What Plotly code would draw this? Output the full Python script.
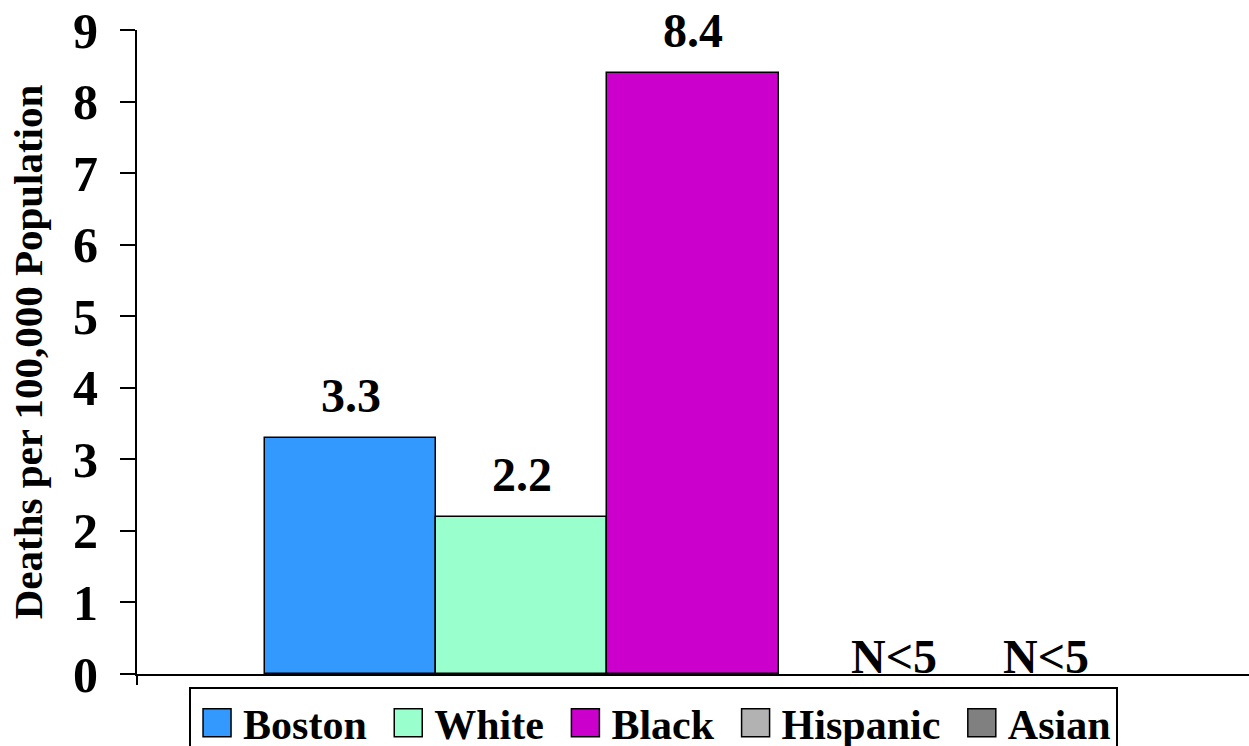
import plotly.graph_objects as go

# Homicide death rates by race/ethnicity
groups = ["Boston", "White", "Black", "Hispanic", "Asian"]
rates = [3.3, 2.2, 8.4, None, None]
labels = ["3.3", "2.2", "8.4", "N<5", "N<5"]
colors = ["#3399FF", "#99FFCC", "#CC00CC", "#B2B2B2", "#808080"]

y_ticks = list(range(0, 10))
y_title = "Deaths per 100,000 Population"

FONT = "Liberation Serif, Times New Roman, serif"

fig = go.Figure()
for name, val, col in zip(groups, rates, colors):
    fig.add_trace(go.Bar(
        x=[name], y=[val], name=name + ("\u00a0" if name != groups[-1] else ""),
        marker=dict(color=col, line=dict(color="black", width=1.5)),
        showlegend=True,
    ))

# value labels above bars; suppressed groups sit on the baseline
xshifts = {"Hispanic": 30, "Asian": 11}
for name, val, lab in zip(groups, rates, labels):
    fig.add_annotation(
        x=name, y=val if val is not None else 0, text=lab,
        showarrow=False, yanchor="bottom",
        yshift=14 if val is not None else -11,
        xshift=xshifts.get(name, 0),
        font=dict(family=FONT, size=48, color="black", weight="bold"),
    )

# short downward extension of the value axis below the baseline
fig.add_shape(type="line", xref="paper", yref="paper", x0=0, x1=0, y0=0, y1=-0.017,
              line=dict(color="black", width=2))

fig.update_layout(
    width=1249, height=746,
    margin=dict(l=137, r=0, t=30, b=72, autoexpand=False),
    paper_bgcolor="white", plot_bgcolor="white",
    font=dict(family=FONT, color="black", weight="bold"),
    barmode="overlay", bargap=0,
    showlegend=True,
    legend=dict(
        orientation="h", x=0.0468, xanchor="left", y=-0.02, yanchor="top",
        font=dict(family=FONT, size=42, color="black", weight="bold"),
        bordercolor="black", borderwidth=2, bgcolor="white", itemwidth=42,
        itemclick=False, itemdoubleclick=False,
    ),
    xaxis=dict(
        type="category", categoryorder="array", categoryarray=groups,
        range=[-1.248, 5.248], showticklabels=False, ticks="",
        showline=True, linecolor="black", linewidth=2, showgrid=False, zeroline=False,
    ),
    yaxis=dict(
        range=[0, 9], tickvals=y_ticks, ticks="outside", ticklen=15, tickwidth=2,
        tickcolor="black", showline=True, linecolor="black", linewidth=2,
        showgrid=False, zeroline=False, ticklabelstandoff=12,
        tickfont=dict(family=FONT, size=50, color="black", weight="bold"),
        title=dict(text=y_title, standoff=18,
                   font=dict(family=FONT, size=41, color="black", weight="bold")),
    ),
)

# enlarge the legend swatches
post = """
document.querySelectorAll('.legend .legendpoints path').forEach(function(p){
  p.setAttribute('d','M14,14H-14V-14H14Z');
});
"""
fig.write_html("out.html", post_script=post)
